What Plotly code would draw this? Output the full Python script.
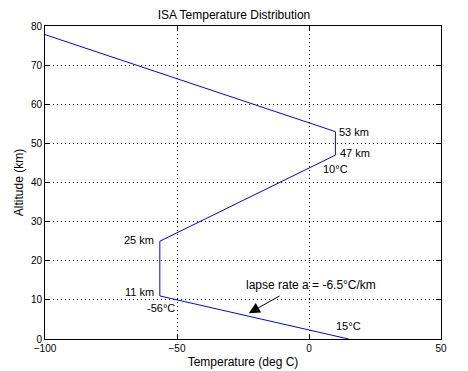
import plotly.graph_objects as go

temps = [15, -56.5, -56.5, 10, 10, -100]
alts = [0, 11, 25, 47, 53, 77.8]

xticks = [-100, -50, 0, 50]
yticks = [0, 10, 20, 30, 40, 50, 60, 70, 80]

labels = [
    # text, x, y, xanchor, size
    ("53 km", 10.5, 53, "left", 11),
    ("47 km", 11, 47.5, "left", 11),
    ("10°C", 10, 43.5, "center", 11),
    ("25 km", -58, 25.2, "right", 11),
    ("11 km", -58, 12, "right", 11),
    ("-56°C", -56, 7.8, "center", 11),
    ("15°C", 15, 3.3, "center", 11),
    ("lapse rate a = -6.5°C/km", -24.5, 13.8, "left", 12),
]

FONT = "Liberation Sans, Arial, Helvetica, sans-serif"

fig = go.Figure()
fig.add_trace(go.Scatter(x=temps, y=alts, mode="lines",
                         line=dict(color="#0000ff", width=1), showlegend=False,
                         hoverinfo="skip"))

for t, x, y, xa, sz in labels:
    fig.add_annotation(x=x, y=y, xref="x", yref="y", text=t, showarrow=False,
                       xanchor=xa, yanchor="middle",
                       font=dict(family=FONT, size=sz, color="black"))

fig.add_annotation(x=-22.8, y=6.6, ax=-10.6, ay=11.2, xref="x", yref="y",
                   axref="x", ayref="y", text="", showarrow=True,
                   arrowhead=2, arrowsize=2.2, arrowwidth=1, arrowcolor="black")

axis_common = dict(showline=True, linecolor="black", linewidth=1, mirror="ticks",
                   ticks="inside", ticklen=5, tickcolor="black",
                   showgrid=True, gridcolor="black", griddash="1px,3px", gridwidth=1,
                   zeroline=False, automargin=False,
                   tickfont=dict(family=FONT, size=10, color="black"))

fig.update_xaxes(range=[-100, 50], tickvals=xticks, **axis_common,
                 title=dict(text="Temperature (deg C)", standoff=4,
                            font=dict(family=FONT, size=12, color="black")))
fig.update_yaxes(range=[0, 80], tickvals=yticks, **axis_common,
                 title=dict(text="Altitude (km)", standoff=4,
                            font=dict(family=FONT, size=12, color="black")))

fig.update_layout(
    width=468, height=371,
    margin=dict(l=45, r=27, t=26, b=32),
    paper_bgcolor="white", plot_bgcolor="white",
    title=dict(text="ISA Temperature Distribution", x=0.5, xanchor="center",
               y=1 - 15 / 371, yanchor="middle",
               font=dict(family=FONT, size=12, color="black")),
)

fig.write_html("out.html", config={"displayModeBar": False},
               post_script="document.body.style.margin='0';")
